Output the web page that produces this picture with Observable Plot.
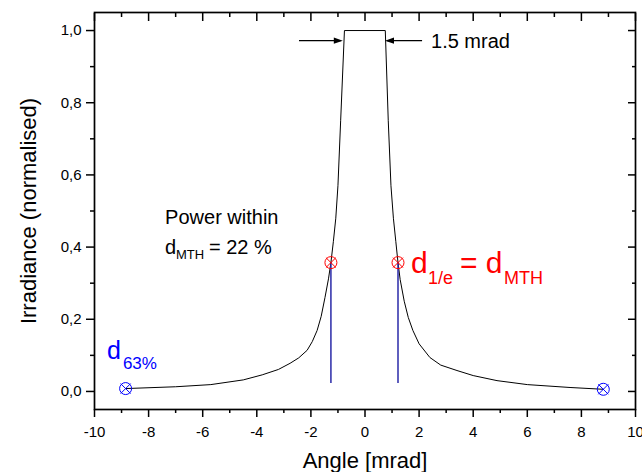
<!DOCTYPE html>
<html><head><meta charset="utf-8">
<script src="https://cdn.jsdelivr.net/npm/d3@7"></script>
<script src="https://cdn.jsdelivr.net/npm/@observablehq/plot@0.6"></script>
<style>html,body{margin:0;padding:0;background:#fff} #chart svg{display:block}</style>
</head><body><div id="chart"></div>
<script>
// Beam profile (angle in mrad, normalised irradiance)
const angle      = [-8.85, -7.0, -5.7, -4.5, -3.8, -3.2, -2.77, -2.45, -2.14, -1.95, -1.77, -1.62, -1.48, -1.35, -1.26, -1.17, -1.08, -1.0, -0.9, -0.76,
                    0.75, 0.86, 0.96, 1.05, 1.14, 1.22, 1.3, 1.45, 1.6, 1.77, 2.0, 2.4, 2.8, 3.4, 4.0, 4.88, 6.0, 7.58, 8.81];
const irradiance = [0.008, 0.013, 0.019, 0.032, 0.046, 0.061, 0.078, 0.093, 0.114, 0.138, 0.169, 0.208, 0.26, 0.312, 0.357, 0.415, 0.48, 0.57, 0.75, 1.0,
                    1.0, 0.75, 0.57, 0.48, 0.415, 0.357, 0.31, 0.25, 0.205, 0.169, 0.132, 0.094, 0.073, 0.058, 0.044, 0.030, 0.019, 0.011, 0.006];
// d_1/e markers (red) and d_63% markers (blue)
const redX  = [-1.26, 1.22];
const redY  = [0.357, 0.357];
const blueX = [-8.85, 8.81];
const blueY = [0.008, 0.006];
const dropBase = [0.022, 0.022];   // lower end of the blue drop lines
// ticks
const xMajor = [-10, -8, -6, -4, -2, 0, 2, 4, 6, 8, 10];
const xMinor = [-9, -7, -5, -3, -1, 1, 3, 5, 7, 9];
const yMajor = [0, 0.2, 0.4, 0.6, 0.8, 1.0];
const yMinor = [0.1, 0.3, 0.5, 0.7, 0.9];

const profile = angle.map((a, i) => ({a, v: irradiance[i]}));
const red = redX.map((x, i) => ({x, y: redY[i], b: dropBase[i]}));
const blue = blueX.map((x, i) => ({x, y: blueY[i]}));

const font = "'Liberation Sans', Arial, sans-serif";
const fmtY = d => d.toFixed(1).replace(".", ",");
const fmtX = d => String(d);

const head = {draw(ctx) { ctx.moveTo(0, 0); ctx.lineTo(-9, -3.2); ctx.lineTo(-9, 3.2); ctx.closePath(); }};

function ann(str, x, y, size, color) {
  return Plot.text([str], {x: () => x, y: () => y, text: d => d, textAnchor: "start", lineAnchor: "bottom", fontSize: size, fill: color});
}

const ax = {label: null, strokeWidth: 1.5};
const chart = Plot.plot({
  width: 642, height: 472,
  marginLeft: 94, marginRight: 7, marginTop: 12, marginBottom: 63,
  style: {fontFamily: font, background: "white", color: "black"},
  x: {domain: [-10, 10]},
  y: {domain: [-0.05, 1.05]},
  marks: [
    Plot.axisX(xMajor, {...ax, anchor: "bottom", tickSize: 8, tickPadding: 9, tickFormat: fmtX, fontSize: 15}),
    Plot.axisX(xMinor, {...ax, anchor: "bottom", tickSize: 4, fill: "none"}),
    Plot.axisX(xMajor, {...ax, anchor: "top", tickSize: 8, dy: 8, fill: "none"}),
    Plot.axisX(xMinor, {...ax, anchor: "top", tickSize: 4, dy: 4, fill: "none"}),
    Plot.axisY(yMajor, {...ax, anchor: "left", tickSize: 8, tickPadding: 5, tickFormat: fmtY, fontSize: 15}),
    Plot.axisY(yMinor, {...ax, anchor: "left", tickSize: 4, fill: "none"}),
    Plot.axisY(yMajor, {...ax, anchor: "right", tickSize: 8, dx: -8, fill: "none"}),
    Plot.axisY(yMinor, {...ax, anchor: "right", tickSize: 4, dx: -4, fill: "none"}),
    Plot.frame({strokeWidth: 1.7}),
    Plot.text(["Angle [mrad]"], {frameAnchor: "bottom", textAnchor: "middle", lineAnchor: "bottom", dy: 58, fontSize: 22}),
    Plot.text(["Irradiance (normalised)"], {frameAnchor: "left", textAnchor: "middle", lineAnchor: "middle", rotate: -90, dx: -66, fontSize: 22}),
    Plot.line(profile, {x: "a", y: "v", curve: "linear", stroke: "black", strokeWidth: 1}),
    Plot.ruleX(red, {x: "x", y1: "y", y2: "b", stroke: "#2a2aa8", strokeWidth: 1.5}),
    Plot.dot(red, {x: "x", y: "y", r: 6, stroke: "#ff0000", strokeWidth: 1}),
    Plot.dot(red, {x: "x", y: "y", r: 4.6, symbol: "times", stroke: "#ff0000", strokeWidth: 1}),
    Plot.dot(blue, {x: "x", y: "y", r: 6, stroke: "#0000ff", strokeWidth: 1}),
    Plot.dot(blue, {x: "x", y: "y", r: 4.6, symbol: "times", stroke: "#0000ff", strokeWidth: 1}),
    // 1.5 mrad width arrows
    Plot.link([0], {x1: () => -2.44, x2: () => -0.9, y1: () => 0.972, y2: () => 0.972, stroke: "black", strokeWidth: 1.3}),
    Plot.link([0], {x1: () => 2.11, x2: () => 0.82, y1: () => 0.972, y2: () => 0.972, stroke: "black", strokeWidth: 1.3}),
    Plot.dot([0], {x: () => -0.82, y: () => 0.972, symbol: head, fill: "black", stroke: "none", rotate: 0}),
    Plot.dot([0], {x: () => 0.74, y: () => 0.972, symbol: head, fill: "black", stroke: "none", rotate: 180}),
    ann("1.5 mrad", 2.44, 0.953, 20, "black"),
    ann("Power within", -7.39, 0.463, 20, "black"),
    ann("d", -7.39, 0.382, 20, "black"),
    ann("MTH", -6.99, 0.368, 13, "black"),
    ann("= 22 %", -5.77, 0.382, 20, "black"),
    ann("d", 1.70, 0.327, 30, "#ff0000"),
    ann("1/e", 2.33, 0.299, 18, "#ff0000"),
    ann("= d", 3.51, 0.327, 30, "#ff0000"),
    ann("MTH", 5.14, 0.299, 18, "#ff0000"),
    ann("d", -9.54, 0.091, 25, "#0000ff"),
    ann("63%", -8.95, 0.061, 17, "#0000ff")
  ]
});
document.getElementById("chart").appendChild(chart);
</script>
</body></html>
